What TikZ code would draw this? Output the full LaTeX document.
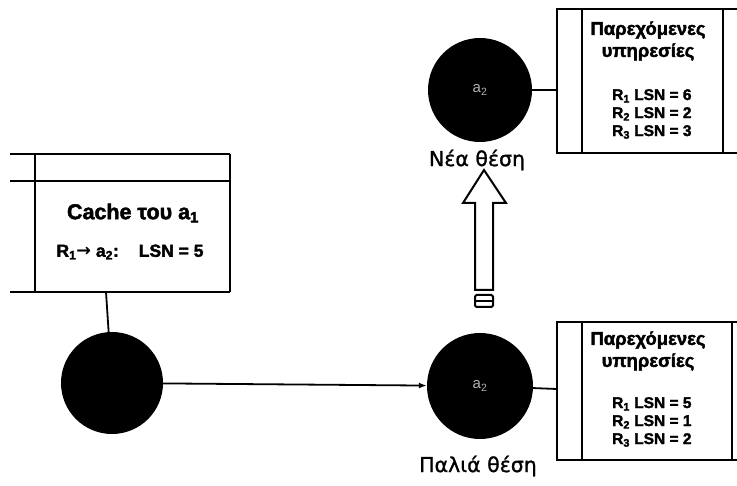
\documentclass[tikz,border=0pt]{standalone}
\usepackage{fontspec}
\setmainfont{Liberation Sans}[BoldFeatures={FakeBold=2}]
\newfontfamily\placefont{DejaVu Sans}[FakeBold=1.2]
\newfontfamily\arrowfont{DejaVu Sans}
\usetikzlibrary{arrows.meta}
\begin{document}
\begin{tikzpicture}[x=1pt,y=-1pt,
  line/.style={line width=2pt},
  thinline/.style={line width=1.8pt},
  agent/.style={circle, fill=black, inner sep=0pt, text=gray!60, font=\fontsize{15}{15}\selectfont},
  boxtitle/.style={font=\bfseries\fontsize{18.5}{22}\selectfont, align=center, inner sep=0pt},
  entry/.style={font=\bfseries\fontsize{15.5}{18}\selectfont, align=left, inner sep=0pt},
  place/.style={font=\placefont\fontsize{20.5}{22}\selectfont, inner sep=0pt}]
\useasboundingbox (0,0) rectangle (737,486);

% circles
\node[agent, minimum size=102pt] (a1) at (112,383) {};
\node[agent, minimum size=106pt] (old) at (480,386) {a\textsubscript{2}};
\node[agent, minimum size=104pt] (new) at (480,90) {a\textsubscript{2}};

% place labels
\node[place] (newlbl) at (477,160) {Νέα θέση};
\node[place] (oldlbl) at (478,466) {Παλιά θέση};

% cache box of a1
\draw[line] (10,154) -- (230,154);
\draw[line] (10,181) -- (230,181);
\draw[line] (10,292) -- (230,292);
\draw[line] (35,154) -- (35,292);
\draw[line] (230,154) -- (230,292);
\node[font=\bfseries\fontsize{21.5}{24}\selectfont, inner sep=0pt] (cachetitle) at (133,213) {Cache του a\textsubscript{1}};
\node[font=\bfseries\fontsize{17.5}{19}\selectfont, inner sep=0pt] (cacheentry) at (130,252) {R\textsubscript{1}{\arrowfont\bfseries →} a\textsubscript{2}:\hspace{20pt}LSN = 5};
\coordinate (cb) at (106,292);
\draw[thinline] (cb) -- (a1);

% top services box
\draw[line] (737,9) -- (557,9) -- (557,153) -- (737,153);
\draw[line] (582,9) -- (582,153);
\draw[line] (723,9) -- (723,153);
\node[boxtitle] (toptitle) at (648,41) {Παρεχόμενες\\υπηρεσίες};
\node[entry, anchor=north west] (topentries) at (612,89) {R\textsubscript{1} LSN = 6\\R\textsubscript{2} LSN = 2\\R\textsubscript{3} LSN = 3};
\coordinate (tbl) at (557,90);
\draw[thinline] (new) -- (tbl);

% bottom services box
\draw[line] (737,322) -- (557,322) -- (557,460) -- (737,460);
\draw[line] (582,322) -- (582,460);
\draw[line] (732,322) -- (732,460);
\node[boxtitle] (bottitle) at (648,351) {Παρεχόμενες\\υπηρεσίες};
\node[entry, anchor=north west] (botentries) at (612,397) {R\textsubscript{1} LSN = 5\\R\textsubscript{2} LSN = 1\\R\textsubscript{3} LSN = 2};
\coordinate (bbl) at (557,389);
\draw[thinline] (old) -- (bbl);

% movement arrow a1 -> old position
\draw[thinline, -{Latex[length=8pt,width=6pt]}] (a1) -- (old);

% hollow block arrow: old -> new position
\draw[line, fill=white, line join=miter] (475,290) -- (475,203) -- (463,203) -- (484,170) -- (506,203) -- (493,203) -- (493,290) -- cycle;
\draw[line, rounded corners=1.5pt] (475,295) rectangle (493,307);
\draw[line] (475,301) -- (493,301);
\end{tikzpicture}
\end{document}
